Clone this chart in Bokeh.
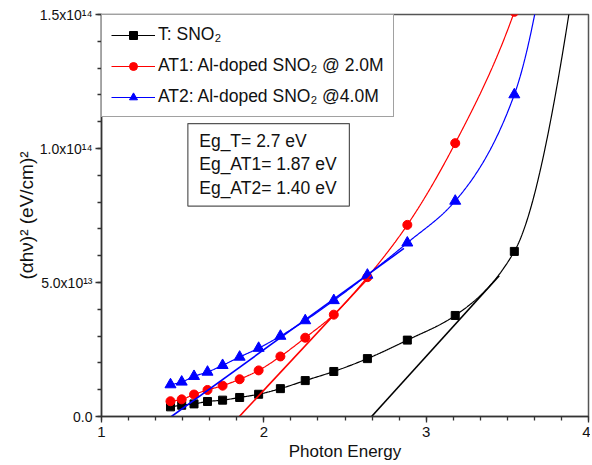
import numpy as np
from bokeh.plotting import figure
from bokeh.models import (Range1d, SingleIntervalTicker, Legend, LegendItem,
                          Label, BoxAnnotation)
from bokeh.embed import file_html
from bokeh.resources import INLINE

# ---- data (y in units of 1e12 (eV/cm)^2) ----
photon_energy = [1.425, 1.494, 1.570, 1.653, 1.746, 1.851, 1.968, 2.102,
                 2.255, 2.431, 2.638, 2.884, 3.179, 3.543, 4.000]
y_T   = [3.6, 4.2, 4.7, 5.6, 6.1, 7.1, 8.3, 10.4, 13.4, 16.8, 21.6, 28.5, 37.7, 61.6, 200.0]
y_AT1 = [5.7, 6.4, 8.2, 9.9, 11.5, 13.9, 17.2, 22.4, 29.4, 38.0, 52.0, 71.5, 102.0, 151.0, 260.0]
y_AT2 = [11.9, 12.9, 15.0, 16.6, 19.1, 22.2, 25.5, 30.0, 35.8, 43.3, 52.8, 64.8, 80.4, 120.1, 295.0]

# Tauc fit lines (x, y)
fit_T_x,   fit_T_y   = [2.664, 3.45], [0.0, 52.5]
fit_AT1_x, fit_AT1_y = [1.849, 2.66], [0.0, 52.7]
fit_AT2_x, fit_AT2_y = [1.431, 2.863], [0.0, 62.7]

names = ["T: SNO\u2082", "AT1: Al-doped SNO\u2082 @ 2.0M", "AT2: Al-doped SNO\u2082 @4.0M"]
gap_text = ["Eg_T= 2.7 eV", "Eg_AT1= 1.87 eV", "Eg_AT2= 1.40 eV"]
y_ticks_labels = {0: "0.0", 50: "5.0x10\u00b9\u00b3", 100: "1.0x10\u00b9\u2074", 150: "1.5x10\u00b9\u2074"}


def pchip(x, y, xs):
    x = np.asarray(x, float); y = np.asarray(y, float)
    h = np.diff(x); d = np.diff(y) / h
    n = len(x); m = np.zeros(n)
    for k in range(1, n - 1):
        if d[k - 1] * d[k] > 0:
            w1 = 2 * h[k] + h[k - 1]; w2 = h[k] + 2 * h[k - 1]
            m[k] = (w1 + w2) / (w1 / d[k - 1] + w2 / d[k])

    def endm(h0, h1, d0, d1):
        v = ((2 * h0 + h1) * d0 - h0 * d1) / (h0 + h1)
        if np.sign(v) != np.sign(d0):
            v = 0.0
        elif np.sign(d0) != np.sign(d1) and abs(v) > abs(3 * d0):
            v = 3 * d0
        return v
    m[0] = endm(h[0], h[1], d[0], d[1])
    m[-1] = endm(h[-1], h[-2], d[-1], d[-2])
    idx = np.clip(np.searchsorted(x, xs) - 1, 0, n - 2)
    t = (xs - x[idx]) / h[idx]
    hh = h[idx]
    return ((2 * t**3 - 3 * t**2 + 1) * y[idx] + (t**3 - 2 * t**2 + t) * hh * m[idx]
            + (-2 * t**3 + 3 * t**2) * y[idx + 1] + (t**3 - t**2) * hh * m[idx + 1])


p = figure(width=590, height=463, x_range=Range1d(1, 4), y_range=Range1d(0, 150),
           output_backend="svg", toolbar_location=None,
           min_border_left=101, min_border_right=2, min_border_top=14, min_border_bottom=45)
p.xgrid.visible = False
p.ygrid.visible = False
p.outline_line_color = "#555555"
p.outline_line_width = 1.5
p.background_fill_color = "white"

font = "Liberation Sans"
for ax in (p.xaxis[0], p.yaxis[0]):
    ax.axis_line_color = "#333333"
    ax.axis_line_width = 1.5
    ax.major_tick_line_color = "#333333"
    ax.minor_tick_line_color = "#333333"
    ax.major_tick_line_width = 1.3
    ax.minor_tick_line_width = 1.3
    ax.major_tick_in = 0
    ax.major_tick_out = 6
    ax.minor_tick_in = 0
    ax.minor_tick_out = 4
    ax.major_label_text_font = font
    ax.major_label_text_color = "#111111"
    ax.axis_label_text_font = font
    ax.axis_label_text_font_style = "normal"
    ax.axis_label_text_font_size = "17px"
    ax.axis_label_text_color = "#111111"

p.xaxis.ticker = SingleIntervalTicker(interval=1, num_minor_ticks=6)
p.yaxis.ticker = SingleIntervalTicker(interval=50, num_minor_ticks=5)
p.xaxis.major_label_text_font_size = "15px"
p.yaxis.major_label_text_font_size = "14px"
p.xaxis.major_label_standoff = 4
p.yaxis.major_label_standoff = 3
p.yaxis.major_label_overrides = y_ticks_labels
p.xaxis.axis_label = "Photon Energy"
p.yaxis.axis_label = "(\u03b1h\u03bd)\u00b2 (eV/cm)\u00b2"
p.yaxis.axis_label_text_font_size = "19px"
p.xaxis.axis_label_standoff = 2
p.yaxis.axis_label_standoff = 0

xs = np.linspace(photon_energy[0], photon_energy[-1], 600)
colors = ["black", "#ff0000", "#0000ff"]
markers = ["square", "circle", "triangle"]
sizes = [8, 9, 11]
items = []
for yv, c, mk, sz, nm in zip([y_T, y_AT1, y_AT2], colors, markers, sizes, names):
    lr = p.line(xs, pchip(photon_energy, yv, xs), line_color=c, line_width=1.2)
    sr = p.scatter(photon_energy, yv, marker=mk, size=sz, fill_color=c, line_color=c)
    items.append(LegendItem(label=nm, renderers=[lr, sr]))

for fx, fy, c in [(fit_T_x, fit_T_y, "black"), (fit_AT1_x, fit_AT1_y, "#ff0000"),
                  (fit_AT2_x, fit_AT2_y, "#0000ff")]:
    p.line(fx, fy, line_color=c, line_width=1.6)

legend = Legend(items=items, location="top_left", margin=0, padding=9, spacing=10,
                label_height=20, glyph_height=20, glyph_width=44, label_standoff=3,
                label_text_font=font, label_text_font_size="17.5px",
                label_text_color="#111111",
                border_line_color="#444444", border_line_width=1.2,
                background_fill_alpha=1.0)
p.add_layout(legend)

box = BoxAnnotation(left=1.532, right=2.527, bottom=78.5, top=109.3,
                    fill_color="white", fill_alpha=1.0,
                    line_color="#555555", line_width=1.2, line_alpha=1.0)
p.add_layout(box)
for txt, yy in zip(gap_text, [102.8, 94.1, 85.1]):
    p.add_layout(Label(x=1.602, y=yy, text=txt, text_baseline="middle",
                       text_font=font, text_font_size="17.5px", text_color="#111111"))

open("out.html", "w").write(file_html(p, INLINE))
